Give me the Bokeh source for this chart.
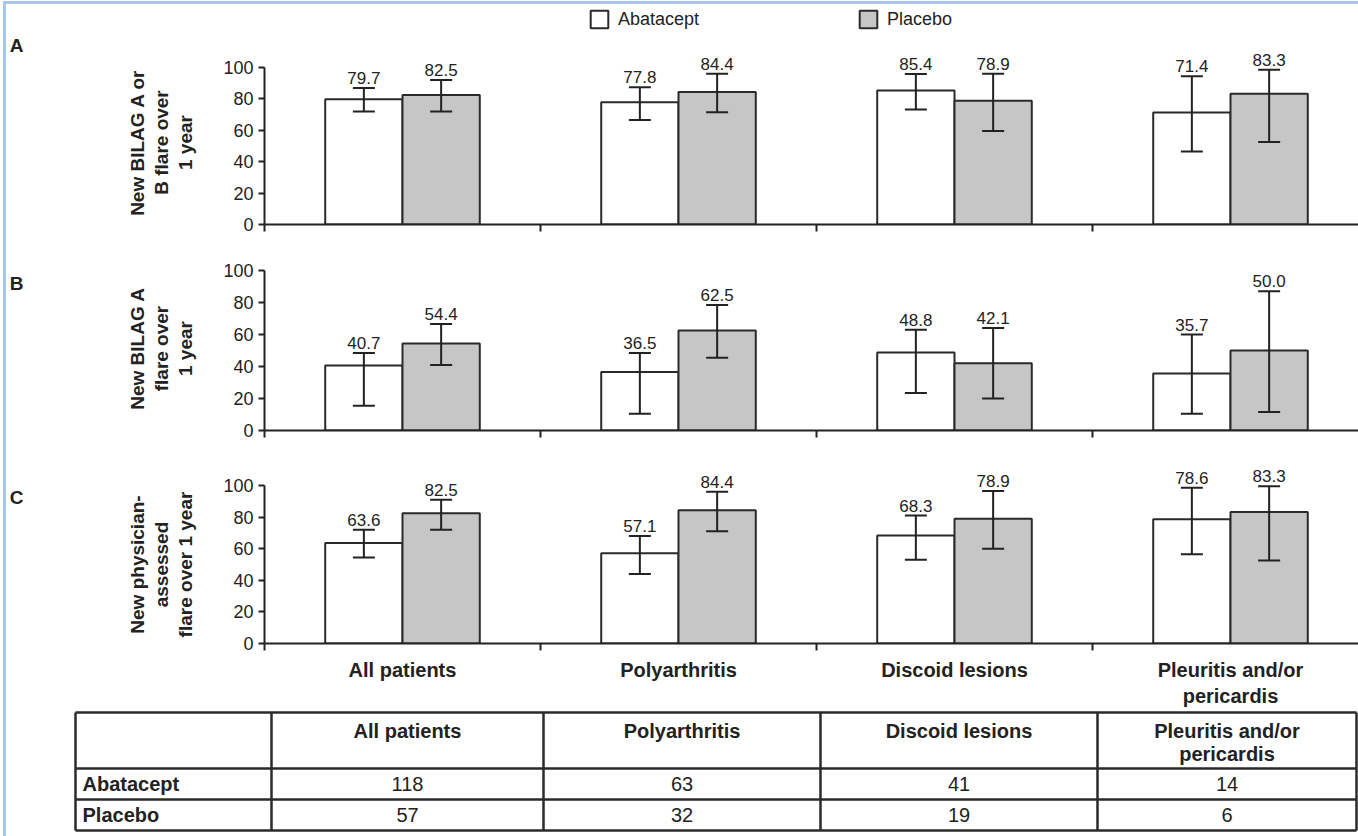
import numpy as np
from bokeh.plotting import figure
from bokeh.layouts import column, row
from bokeh.models import (Range1d, FixedTicker, LinearAxis, Whisker, TeeHead,
                          ColumnDataSource, Legend, LegendItem)
from bokeh.core.properties import value
from bokeh.embed import file_html
from bokeh.resources import INLINE

# ---------------------------------------------------------------- data
categories = ["All patients", "Polyarthritis", "Discoid lesions", "Pleuritis and/or\npericardis"]
series_names = ["Abatacept", "Placebo"]
panel_letters = ["A", "B", "C"]
panel_titles = ["New BILAG A or\nB flare over\n1 year",
                "New BILAG A\nflare over\n1 year",
                "New physician-\nassessed\nflare over 1 year"]

# A: new BILAG A or B flare over 1 year (%), with 95% CI
abatacept_A = [79.7, 77.8, 85.4, 71.4]
abatacept_A_lo = [72.0, 66.5, 73.2, 46.5]
abatacept_A_hi = [87.0, 87.5, 95.8, 94.5]
placebo_A = [82.5, 84.4, 78.9, 83.3]
placebo_A_lo = [72.0, 71.5, 59.5, 52.5]
placebo_A_hi = [92.0, 96.0, 96.0, 98.5]

# B: new BILAG A flare over 1 year (%)
abatacept_B = [40.7, 36.5, 48.8, 35.7]
abatacept_B_lo = [15.5, 10.5, 23.5, 10.5]
abatacept_B_hi = [48.5, 48.5, 63.0, 60.0]
placebo_B = [54.4, 62.5, 42.1, 50.0]
placebo_B_lo = [41.0, 45.5, 20.0, 11.5]
placebo_B_hi = [66.5, 78.5, 64.0, 87.0]

# C: new physician-assessed flare over 1 year (%)
abatacept_C = [63.6, 57.1, 68.3, 78.6]
abatacept_C_lo = [54.5, 44.0, 53.0, 56.5]
abatacept_C_hi = [72.0, 68.0, 81.0, 98.5]
placebo_C = [82.5, 84.4, 78.9, 83.3]
placebo_C_lo = [72.0, 71.0, 60.0, 52.5]
placebo_C_hi = [91.0, 96.0, 96.5, 99.5]

# patients per subgroup
n_abatacept = [118, 63, 41, 14]
n_placebo = [57, 32, 19, 6]

y_ticks = [0, 20, 40, 60, 80, 100]

# ---------------------------------------------------------------- layout
FONT = "Liberation Sans"
INK = "#222222"
PAGE_W = 1352         # page width minus the framing border
GUTTER = 210          # strip on the left holding panel letter and y title
FIG_W = PAGE_W - GUTTER
LEFT = 48             # left border holding the y tick labels
CAT_PX = 276          # horizontal size of one category
BAR_W = 0.28
X_END = (FIG_W - LEFT) / CAT_PX


def title_strip(letter, title, height, letter_y, title_y):
    s = figure(width=GUTTER, height=height, x_range=Range1d(0, GUTTER), y_range=Range1d(height, 0),
               output_backend="svg", toolbar_location=None,
               x_axis_location=None, y_axis_location=None, min_border=0)
    s.frame_align = False
    s.outline_line_color = None
    s.grid.grid_line_color = None
    s.text(x=[10], y=[letter_y], text=[letter], text_align="center", text_baseline="middle",
           text_font=value(FONT), text_font_style="bold", text_font_size="19px", text_color=INK)
    s.text(x=[155], y=[title_y], text=[title], angle=np.pi / 2, text_align="center",
           text_baseline="middle", text_line_height=1.12, text_font=value(FONT),
           text_font_style="bold", text_font_size="19px", text_color=INK)
    return s


def make_panel(aba, aba_lo, aba_hi, pla, pla_lo, pla_hi,
               height, border_bottom, px_per_unit, show_categories=False):
    frame_h = height - border_bottom
    p = figure(width=FIG_W, height=height,
               x_range=Range1d(0, X_END), y_range=Range1d(0, frame_h / px_per_unit),
               output_backend="svg", toolbar_location=None,
               x_axis_location=None, y_axis_location=None,
               min_border_left=LEFT, min_border_right=0, min_border_top=0,
               min_border_bottom=border_bottom)
    p.frame_align = False
    p.outline_line_color = None
    p.grid.grid_line_color = None

    idx = np.arange(len(categories))
    src_a = ColumnDataSource(dict(x=idx + 0.5 - BAR_W / 2, top=aba, lower=aba_lo, upper=aba_hi,
                                  label=[f"{v:.1f}" for v in aba]))
    src_p = ColumnDataSource(dict(x=idx + 0.5 + BAR_W / 2, top=pla, lower=pla_lo, upper=pla_hi,
                                  label=[f"{v:.1f}" for v in pla]))

    ra = p.vbar(x="x", top="top", bottom=0, width=BAR_W, source=src_a,
                fill_color="white", line_color="#2a2a2a", line_width=2)
    rp = p.vbar(x="x", top="top", bottom=0, width=BAR_W, source=src_p,
                fill_color="#c6c6c6", line_color="#2a2a2a", line_width=2)

    for src in (src_a, src_p):
        w = Whisker(base="x", lower="lower", upper="upper", source=src, level="overlay",
                    line_color=INK, line_width=2,
                    upper_head=TeeHead(size=22, line_color=INK, line_width=2),
                    lower_head=TeeHead(size=22, line_color=INK, line_width=2))
        p.add_layout(w)
        p.text(x="x", y="upper", text="label", source=src, text_align="center",
               text_baseline="bottom", y_offset=-4, text_font=value(FONT),
               text_font_size="17px", text_color=INK)

    yax = LinearAxis(ticker=FixedTicker(ticks=y_ticks), bounds=(0, 100),
                     major_label_text_font=FONT, major_label_text_font_size="18px",
                     major_label_text_color=INK, major_label_standoff=5,
                     major_tick_out=6, major_tick_in=0, minor_tick_out=0, minor_tick_in=0,
                     axis_line_width=2, axis_line_color=INK,
                     major_tick_line_width=2, major_tick_line_color=INK)
    p.add_layout(yax, "left")

    centers = [i + 0.5 for i in range(len(categories))]
    xax = LinearAxis(ticker=FixedTicker(ticks=centers, minor_ticks=list(range(len(categories)))),
                     major_tick_out=0, major_tick_in=0, minor_tick_out=7, minor_tick_in=0,
                     axis_line_width=2, axis_line_color=INK,
                     minor_tick_line_width=2, minor_tick_line_color=INK,
                     major_label_text_font=FONT, major_label_text_color=INK,
                     major_label_text_font_style="bold")
    if show_categories:
        xax.major_label_overrides = {c: name for c, name in zip(centers, categories)}
        xax.major_label_text_font_size = "20px"
        xax.major_label_standoff = 8
    else:
        xax.major_label_overrides = {c: "" for c in centers}
        xax.major_label_text_font_size = "0px"
        xax.major_label_standoff = 0
    p.add_layout(xax, "below")
    return p, ra, rp


H_A, H_B, H_C = 232, 209, 265

pA, ra, rp = make_panel(abatacept_A, abatacept_A_lo, abatacept_A_hi,
                        placebo_A, placebo_A_lo, placebo_A_hi,
                        height=H_A, border_bottom=12, px_per_unit=1.57)
legend = Legend(items=[LegendItem(label=series_names[0], renderers=[ra]),
                       LegendItem(label=series_names[1], renderers=[rp])],
                orientation="horizontal", location=(324, 194),
                glyph_width=22, glyph_height=22, label_standoff=8, label_width=200,
                spacing=39, padding=0, margin=0, border_line_color=None,
                background_fill_alpha=0, label_text_font=FONT,
                label_text_font_size="18px", label_text_color=INK)
pA.add_layout(legend)

pB, _, _ = make_panel(abatacept_B, abatacept_B_lo, abatacept_B_hi,
                      placebo_B, placebo_B_lo, placebo_B_hi,
                      height=H_B, border_bottom=15, px_per_unit=1.60)

pC, _, _ = make_panel(abatacept_C, abatacept_C_lo, abatacept_C_hi,
                      placebo_C, placebo_C_lo, placebo_C_hi,
                      height=H_C, border_bottom=67, px_per_unit=1.58, show_categories=True)

rows = [row(title_strip(panel_letters[0], panel_titles[0], H_A, 41, 138), pA),
        row(title_strip(panel_letters[1], panel_titles[1], H_B, 47, 112), pB),
        row(title_strip(panel_letters[2], panel_titles[2], H_C, 52, 119), pC)]

# ---------------------------------------------------------------- patient table
TBL_H = 126
pt = figure(width=PAGE_W, height=TBL_H, x_range=Range1d(0, PAGE_W), y_range=Range1d(TBL_H, 0),
            output_backend="svg", toolbar_location=None,
            x_axis_location=None, y_axis_location=None, min_border=0)
pt.frame_align = False
pt.outline_line_color = None
pt.grid.grid_line_color = None

col_edges = [69, 265, 537, 814, 1091, 1350]
row_edges = [2, 58, 89, 120]
col_mid = [(a + b) / 2 for a, b in zip(col_edges[1:-1], col_edges[2:])]
row_mid = [(a + b) / 2 for a, b in zip(row_edges[1:-1], row_edges[2:])]

pt.segment(x0=[col_edges[0]] * len(row_edges), x1=[col_edges[-1]] * len(row_edges),
           y0=row_edges, y1=row_edges, line_color="#2a2a2a", line_width=2.5)
pt.segment(x0=col_edges, x1=col_edges, y0=[row_edges[0]] * len(col_edges),
           y1=[row_edges[-1]] * len(col_edges), line_color="#2a2a2a", line_width=2.5)

pt.text(x=col_mid, y=[row_edges[0] + 7] * len(categories), text=categories,
        text_align="center", text_baseline="top", text_line_height=1.08, text_font=value(FONT),
        text_font_style="bold", text_font_size="20px", text_color=INK)
pt.text(x=[col_edges[0] + 7] * 2, y=row_mid, text=series_names,
        text_align="left", text_baseline="middle", text_font=value(FONT),
        text_font_style="bold", text_font_size="20px", text_color=INK)
pt.text(x=col_mid, y=[row_mid[0]] * len(n_abatacept), text=[str(n) for n in n_abatacept],
        text_align="center", text_baseline="middle", text_font=value(FONT),
        text_font_size="20px", text_color=INK)
pt.text(x=col_mid, y=[row_mid[1]] * len(n_placebo), text=[str(n) for n in n_placebo],
        text_align="center", text_baseline="middle", text_font=value(FONT),
        text_font_size="20px", text_color=INK)

page = column(*rows, pt,
              styles={"border-left": "3px solid #a8c8ea", "border-top": "3px solid #a8c8ea",
                      "margin-left": "3px", "margin-top": "1px", "background": "white"})

open("out.html", "w").write(file_html(page, INLINE))
